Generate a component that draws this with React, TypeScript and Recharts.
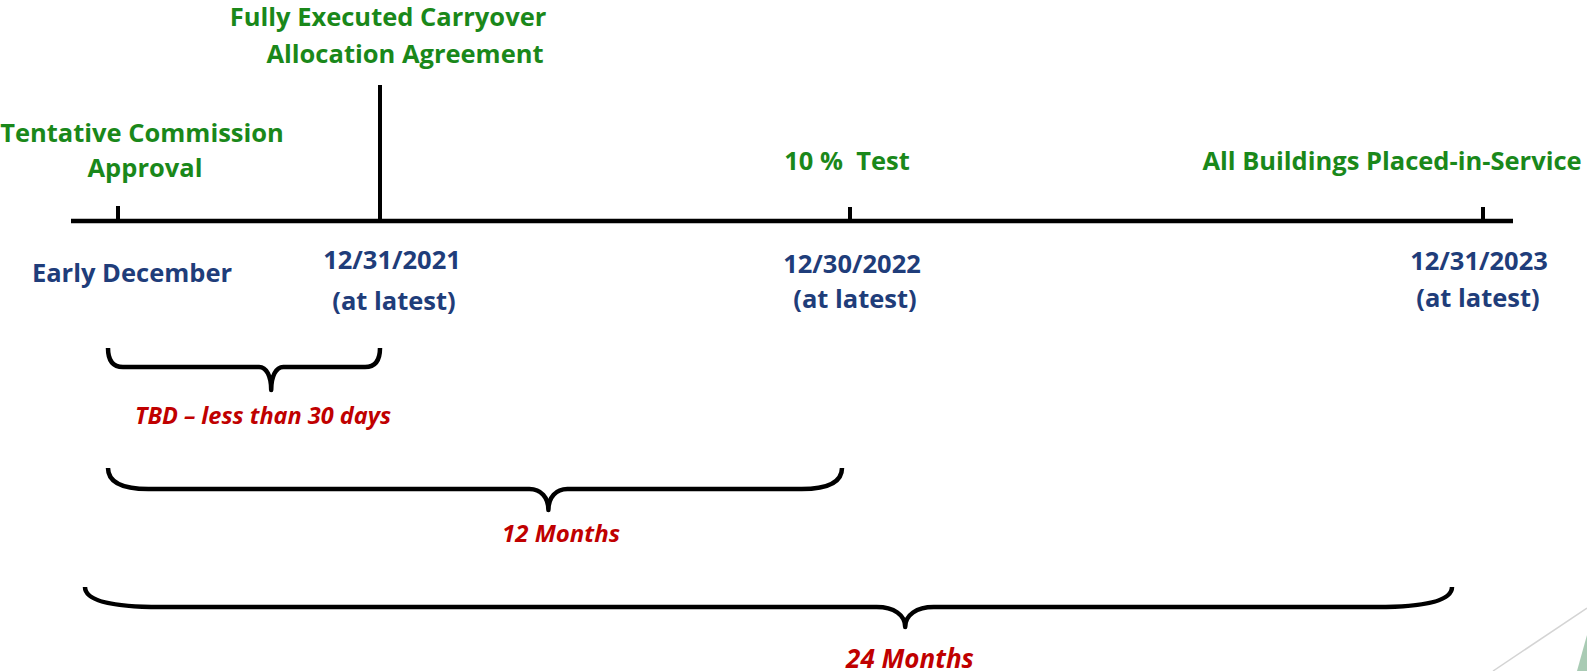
import React from "react";
import {
  ComposedChart,
  XAxis,
  YAxis,
  Scatter,
  ReferenceLine,
  ReferenceArea,
} from "recharts";

// milestones on the timeline (position in timeline units)
const milestoneTitles = [
  ["Tentative Commission", "Approval"],
  ["Fully Executed Carryover", "Allocation Agreement"],
  ["10 %  Test"],
  ["All Buildings Placed-in-Service"],
];
const milestoneDates = [
  ["Early December"],
  ["12/31/2021", "(at latest)"],
  ["12/30/2022", "(at latest)"],
  ["12/31/2023", "(at latest)"],
];
const milestonePositions = [118, 380, 850, 1483];

// the spans (braces) below the timeline
const spanLabels = ["TBD – less than 30 days", "12 Months", "24 Months"];
const spanStarts = [108, 108, 85];
const spanEnds = [380, 842, 1452];

const timelineStart = 71;
const timelineEnd = 1513;

// layout
const W = 1587;
const H = 671;
const AXIS_Y = 221;
const TICK_TOP = [206, 85, 207, 207];
const TITLE_X = [[142, 145], [388, 405], [847], [1392]];
const TITLE_Y = [[132, 167], [16, 53], [160], [160]];
const DATE_X = [[132], [392, 394], [852, 855], [1479, 1478]];
const DATE_Y = [[272], [259, 300], [263, 298], [260, 297]];
const BRACE_TOP = [348, 468, 587];
const BRACE_BAR = [367, 489, 607];
const BRACE_TIP = [390, 510, 627];
const BRACE_POINT = 0.6; // where the brace tip sits along its width
const SPAN_LABEL_X = [263, 561, 910];
const SPAN_LABEL_Y = [415, 532, 658];
const SPAN_LABEL_SIZE = [23.5, 24, 26];
const TITLE_SIZE = 25.5;
const DATE_SIZE = 25.5;

const GREEN = "#1a881a";
const BLUE = "#1f3d7a";
const RED = "#c00000";
const FONT = "'Open Sans', Lato, sans-serif";

type TextItem = {
  x: number;
  y: number;
  text: string;
  color: string;
  size: number;
  italic?: boolean;
};

const textItems: TextItem[] = [
  ...milestoneTitles.flatMap((lines, i) =>
    lines.map((t, j) => ({
      x: TITLE_X[i][j],
      y: TITLE_Y[i][j],
      text: t,
      color: GREEN,
      size: TITLE_SIZE,
    }))
  ),
  ...milestoneDates.flatMap((lines, i) =>
    lines.map((t, j) => ({
      x: DATE_X[i][j],
      y: DATE_Y[i][j],
      text: t,
      color: BLUE,
      size: DATE_SIZE,
    }))
  ),
  ...spanLabels.map((t, i) => ({
    x: SPAN_LABEL_X[i],
    y: SPAN_LABEL_Y[i],
    text: t,
    color: RED,
    size: SPAN_LABEL_SIZE[i],
    italic: true,
  })),
];

function TextMark(props: any) {
  const { cx, cy, payload } = props;
  return (
    <text
      x={cx}
      y={cy}
      textAnchor="middle"
      dominantBaseline="central"
      fill={payload.color}
      fontSize={payload.size}
      fontWeight={700}
      fontStyle={payload.italic ? "italic" : "normal"}
      fontFamily={FONT}
      style={{ whiteSpace: "pre" }}
    >
      {payload.text}
    </text>
  );
}

function Brace(props: any) {
  const { x, y, width, height, barFrac } = props;
  const x0 = x;
  const x1 = x + width;
  const yt = y;
  const yb = y + height * barFrac;
  const tip = y + height;
  const cx = x + width * BRACE_POINT;
  const rx = width * 0.055;
  const cr = 8 + width * 0.015;
  const depth = tip - yb;
  const d = [
    `M ${x0} ${yt}`,
    `Q ${x0} ${yb} ${x0 + rx} ${yb}`,
    `L ${cx - cr} ${yb}`,
    `C ${cx - cr * 0.4} ${yb} ${cx} ${yb + depth * 0.4} ${cx} ${tip}`,
    `C ${cx} ${yb + depth * 0.4} ${cx + cr * 0.4} ${yb} ${cx + cr} ${yb}`,
    `L ${x1 - rx} ${yb}`,
    `Q ${x1} ${yb} ${x1} ${yt}`,
  ].join(" ");
  return (
    <path
      d={d}
      fill="none"
      stroke="#000"
      strokeWidth={4.5}
      strokeLinejoin="round"
    />
  );
}

function Corner(props: any) {
  const { x, y, width, height } = props;
  return (
    <polygon
      points={`${x},${y + height} ${x + width},${y} ${x + width},${y + height}`}
      fill="#a9cbb4"
    />
  );
}

export default function App() {
  return (
    <div style={{ position: "absolute", left: 0, top: 0, background: "#fff" }}>
      <ComposedChart
        width={W}
        height={H}
        data={textItems}
        margin={{ top: 0, right: 0, bottom: 0, left: 0 }}
      >
        <XAxis
          type="number"
          dataKey="x"
          domain={[0, W]}
          allowDataOverflow
          hide
        />
        <YAxis
          type="number"
          dataKey="y"
          domain={[0, H]}
          reversed
          allowDataOverflow
          hide
        />

        <ReferenceLine
          segment={[
            { x: timelineStart, y: AXIS_Y },
            { x: timelineEnd, y: AXIS_Y },
          ]}
          stroke="#000"
          strokeWidth={4.5}
        />
        {milestonePositions.map((p, i) => (
          <ReferenceLine
            key={`tick-${i}`}
            segment={[
              { x: p, y: TICK_TOP[i] },
              { x: p, y: AXIS_Y },
            ]}
            stroke="#000"
            strokeWidth={4}
          />
        ))}

        {spanStarts.map((s, i) => (
          <ReferenceArea
            key={`span-${i}`}
            x1={s}
            x2={spanEnds[i]}
            y1={BRACE_TOP[i]}
            y2={BRACE_TIP[i]}
            shape={(p: any) => (
              <Brace
                {...p}
                barFrac={
                  (BRACE_BAR[i] - BRACE_TOP[i]) / (BRACE_TIP[i] - BRACE_TOP[i])
                }
              />
            )}
          />
        ))}

        {/* slide decoration in the bottom right corner */}
        <ReferenceLine
          segment={[
            { x: 1493, y: H },
            { x: W, y: 608 },
          ]}
          stroke="#d4d4d4"
          strokeWidth={1.5}
        />
        <ReferenceArea x1={1577} x2={W} y1={635} y2={H} shape={Corner} />

        <Scatter
          data={textItems}
          shape={TextMark}
          isAnimationActive={false}
        />
      </ComposedChart>
    </div>
  );
}
